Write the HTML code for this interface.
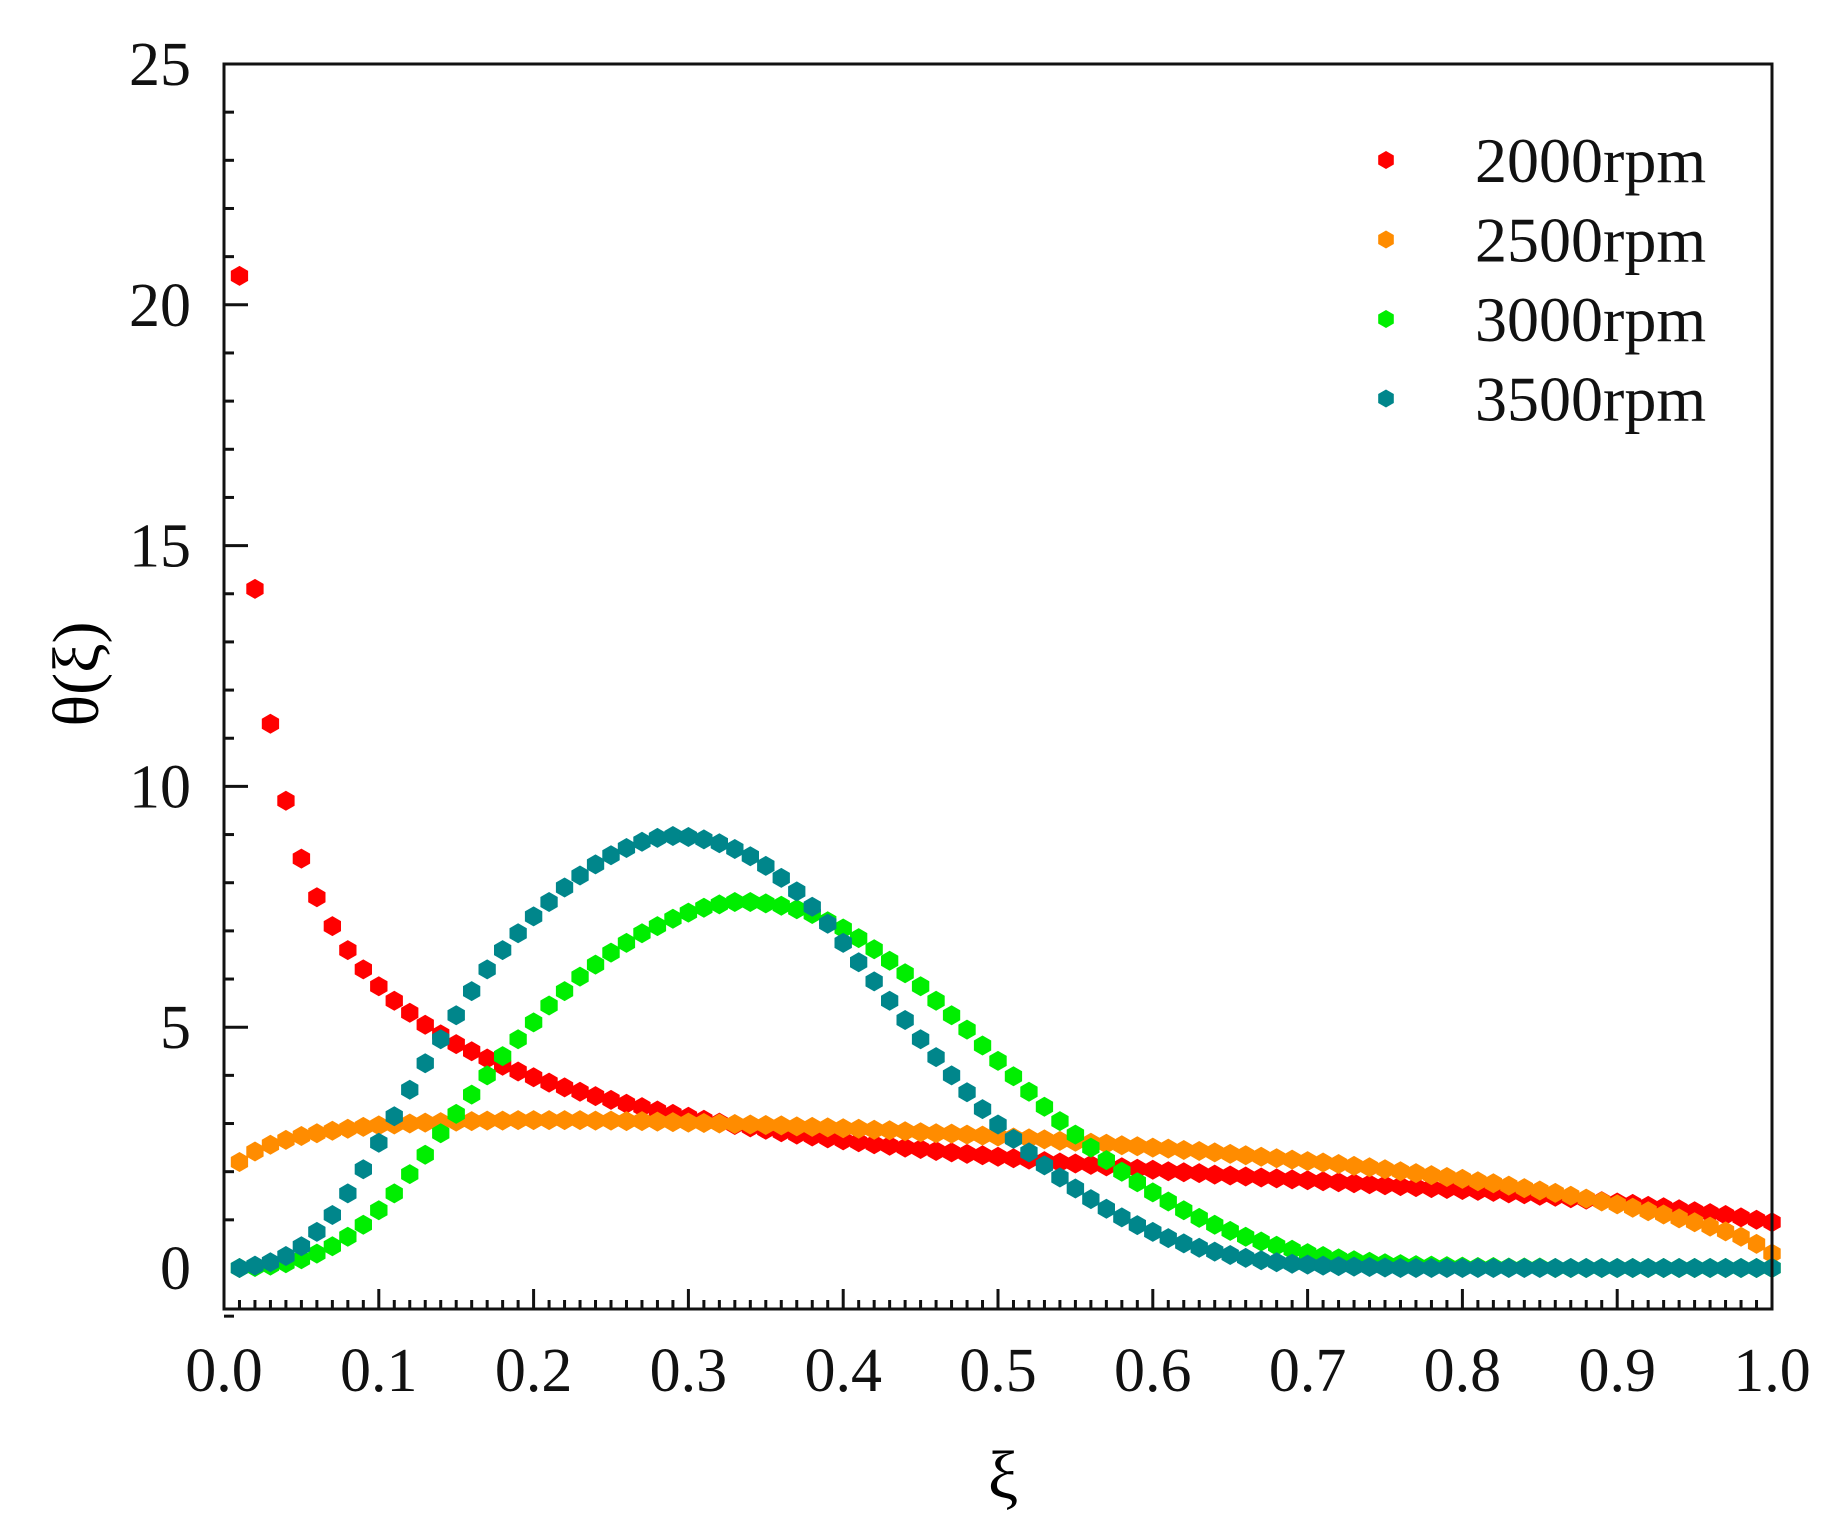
<!DOCTYPE html>
<html><head><meta charset="utf-8">
<style>
html,body{margin:0;padding:0;background:#fff;}
svg{display:block;font-family:"Liberation Serif",serif;}
</style></head>
<body>
<svg id="chart" width="1844" height="1529" viewBox="0 0 1844 1529" xmlns="http://www.w3.org/2000/svg">
<g id="marks"></g>
<g id="axes"></g>
<text x="1003" y="1498" font-size="68" text-anchor="middle">ξ</text>
<text transform="translate(98,674) rotate(-90)" font-size="66" text-anchor="middle">θ(ξ)</text>
<g id="legend"></g>
</svg>
<script>
const xValues = [];
for (let i = 1; i <= 100; i++) xValues.push(i / 100);
const seriesNames = ["2000rpm","2500rpm","3000rpm","3500rpm"];
const seriesColors = ["#ff0000","#ff8c00","#00ee00","#00868b"];
const rpm2000 = [20.6,14.1,11.3,9.7,8.5,7.7,7.1,6.6,6.2,5.85,
5.55,5.3,5.05,4.85,4.65,4.5,4.35,4.2,4.08,3.96,
3.85,3.75,3.66,3.57,3.49,3.41,3.34,3.27,3.2,3.14,
3.08,3.02,2.97,2.92,2.87,2.82,2.77,2.73,2.69,2.65,
2.61,2.57,2.54,2.5,2.47,2.43,2.4,2.37,2.34,2.31,
2.28,2.25,2.22,2.19,2.17,2.14,2.11,2.09,2.06,2.04,
2.01,1.99,1.97,1.94,1.92,1.9,1.88,1.86,1.84,1.82,
1.8,1.78,1.76,1.74,1.72,1.7,1.68,1.66,1.64,1.62,
1.6,1.58,1.55,1.53,1.5,1.48,1.45,1.42,1.39,1.36,
1.33,1.29,1.26,1.22,1.18,1.14,1.1,1.05,1.0,0.95];
const rpm2500 = [2.2,2.42,2.56,2.66,2.74,2.8,2.85,2.89,2.93,2.96,
2.98,3.0,3.02,3.03,3.04,3.05,3.06,3.06,3.07,3.07,
3.07,3.07,3.07,3.06,3.06,3.05,3.05,3.04,3.03,3.02,
3.01,3.0,2.99,2.98,2.97,2.96,2.94,2.93,2.92,2.9,
2.89,2.87,2.86,2.84,2.82,2.8,2.79,2.77,2.75,2.73,
2.71,2.69,2.67,2.64,2.62,2.6,2.58,2.55,2.53,2.5,
2.48,2.45,2.43,2.4,2.37,2.34,2.31,2.28,2.25,2.22,
2.19,2.16,2.12,2.09,2.05,2.01,1.97,1.93,1.89,1.85,
1.8,1.76,1.71,1.66,1.61,1.56,1.5,1.44,1.38,1.32,
1.25,1.18,1.11,1.03,0.95,0.86,0.76,0.65,0.5,0.3];
const rpm3000 = [0,0.02,0.05,0.1,0.18,0.3,0.45,0.65,0.9,1.2,
1.55,1.95,2.35,2.8,3.2,3.6,4.0,4.4,4.75,5.1,
5.45,5.75,6.05,6.3,6.55,6.75,6.95,7.1,7.25,7.38,
7.48,7.55,7.6,7.6,7.57,7.52,7.45,7.35,7.2,7.05,
6.85,6.62,6.38,6.12,5.85,5.55,5.25,4.95,4.62,4.3,
3.98,3.66,3.35,3.05,2.77,2.5,2.24,2.0,1.78,1.57,
1.38,1.2,1.04,0.9,0.77,0.65,0.55,0.46,0.38,0.31,
0.25,0.2,0.16,0.13,0.1,0.08,0.06,0.05,0.04,0.03,
0.02,0.02,0.01,0.01,0.01,0,0,0,0,0,
0,0,0,0,0,0,0,0,0,0];
const rpm3500 = [0,0.05,0.12,0.25,0.45,0.75,1.1,1.55,2.05,2.6,
3.15,3.7,4.25,4.75,5.25,5.75,6.2,6.6,6.95,7.3,
7.6,7.9,8.15,8.38,8.57,8.72,8.85,8.93,8.97,8.95,
8.9,8.82,8.7,8.55,8.35,8.1,7.82,7.5,7.15,6.75,
6.35,5.95,5.55,5.15,4.75,4.38,4.0,3.65,3.3,2.98,
2.68,2.4,2.13,1.88,1.65,1.43,1.23,1.05,0.89,0.75,
0.62,0.51,0.42,0.34,0.27,0.21,0.16,0.12,0.09,0.07,
0.05,0.04,0.03,0.02,0.01,0,0,0,0,0,
0,0,0,0,0,0,0,0,0,0,
0,0,0,0,0,0,0,0,0,0];
const xTicks = ["0.0","0.1","0.2","0.3","0.4","0.5","0.6","0.7","0.8","0.9","1.0"];
const yTicks = ["0","5","10","15","20","25"];

const NS = "http://www.w3.org/2000/svg";
const L = 224, R = 1772, T = 64, B = 1309;
const Y0 = 1268, YMAX = 25;
function xs(v){ return L + v * (R - L); }
function ys(v){ return Y0 - v * (Y0 - T) / YMAX; }
function mk(tag, attrs, parent){
  const e = document.createElementNS(NS, tag);
  for (const k in attrs) e.setAttribute(k, attrs[k]);
  parent.appendChild(e);
  return e;
}
function hexPts(cx, cy, r){
  let p = [];
  for (let i = 0; i < 6; i++){ const a = Math.PI/6 + i*Math.PI/3; p.push((cx + r*Math.cos(a)).toFixed(1) + "," + (cy + r*Math.sin(a)).toFixed(1)); }
  return p.join(" ");
}
const axes = document.getElementById("axes");
const marks = document.getElementById("marks");
const legend = document.getElementById("legend");

const frame = mk("rect", {x:L, y:T, width:R-L, height:B-T, fill:"none", stroke:"#111", "stroke-width":3}, axes);



for (let i = 1; i < 100; i++){
  const major = i % 10 === 0;
  const t = mk("line", {x1:xs(i/100), x2:xs(i/100), y1:B, y2:B-(major?20:9), stroke:"#111", "stroke-width":3}, axes);
  
  
}
xTicks.forEach((lab, i) => {
  const t = mk("text", {x:xs(i/10), y:1391, "font-size":62, "text-anchor":"middle", fill:"#111"}, axes);
  t.textContent = lab;
  
  
});
for (let v = 1; v < 25; v++){
  const major = v % 5 === 0;
  const t = mk("line", {x1:L, x2:L+(major?24:10), y1:ys(v), y2:ys(v), stroke:"#111", "stroke-width":3}, axes);
  
  
}
{
  const t = mk("line", {x1:L, x2:L+10, y1:ys(-1), y2:ys(-1), stroke:"#111", "stroke-width":3}, axes);
  
  
}
yTicks.forEach((lab) => {
  const t = mk("text", {x:191, y:ys(+lab)+21, "font-size":62, "text-anchor":"end", fill:"#111"}, axes);
  t.textContent = lab;
  
  
});

const allSeries = [rpm2000, rpm2500, rpm3000, rpm3500];
allSeries.forEach((vals, s) => {
  const g = mk("g", {fill:seriesColors[s]}, marks);
  
  
  vals.forEach((v, i) => {
    const p = mk("polygon", {points:hexPts(xs(xValues[i]), ys(v), 10)}, g);
    
    
  });
});

seriesNames.forEach((n, i) => {
  const y = 160 + i * 79.5;
  const m = mk("polygon", {points:hexPts(1386, y, 9), fill:seriesColors[i]}, legend);
  
  
  const t = mk("text", {x:1475, y:y+22, "font-size":64, fill:"#111"}, legend);
  t.textContent = n;
  
  
});
</script>
</body></html>
